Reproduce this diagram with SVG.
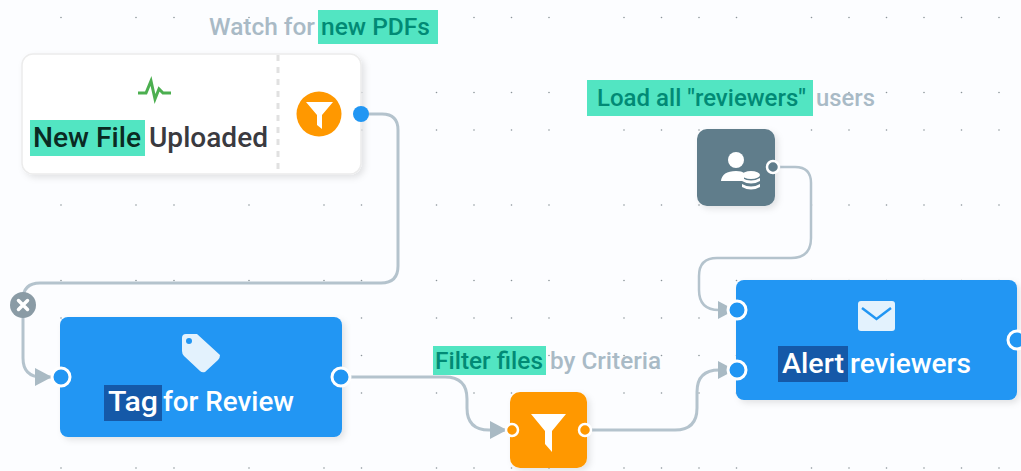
<svg xmlns="http://www.w3.org/2000/svg" width="1021" height="471" viewBox="0 0 1021 471">
<style>
text{font-family:Roboto,"Liberation Sans",sans-serif;}
.t{font-size:27px;font-weight:500;}
.l{font-size:23.5px;font-weight:500;fill:#a9bac6;}
.hl{fill:#52e5c2;}
.hd{fill:#1559a8;}
.w{fill:#fff;}
.lh{font-size:23.5px;font-weight:500;fill:#018a75;}
.edge{fill:none;stroke:#b4c3cd;stroke-width:3;}
.thin{stroke-width:2.5;}
.pb{fill:#2196f3;stroke:#fff;stroke-width:3;}
.ico{fill:#e3f2fd;}
</style>
<defs>
<path id="dots" d="M61 0h.01M136 0h.01M174 0h.01M249 0h.01M324 0h.01M361.500 0h.01M436.500 0h.01M474 0h.01M511.500 0h.01M549 0h.01M624 0h.01M661.500 0h.01M699 0h.01M736.500 0h.01M811.500 0h.01M849 0h.01M886.500 0h.01M924 0h.01M961.500 0h.01M999 0h.01" stroke="#8b9499" stroke-width="1.6" stroke-linecap="round" fill="none"/>
<marker id="arr" markerUnits="userSpaceOnUse" markerWidth="18" markerHeight="20" refX="17" refY="9" orient="auto"><path d="M0 0L17 9L0 18Z" fill="#a9bac4"/></marker>
<filter id="sh" x="-10%" y="-10%" width="125%" height="130%"><feDropShadow dx="3" dy="3" stdDeviation="3" flood-color="#000" flood-opacity=".1"/></filter>
</defs>
<rect width="1021" height="471" fill="#fcfdff"/>
<g id="grid">
<use href="#dots" y="17.5"/><use href="#dots" y="92.5"/><use href="#dots" y="130"/><use href="#dots" y="205"/><use href="#dots" y="280.5"/><use href="#dots" y="318"/><use href="#dots" y="355.5"/><use href="#dots" y="393"/><use href="#dots" y="468"/>
</g>
<g id="connectors">
<path class="edge" d="M361 114H382Q398 114 398 130V266Q398 283 381 283H40Q23 283 23 300V358Q23 377 42 377H52" marker-end="url(#arr)"/>
<path class="edge" d="M351 377H445Q467 377 467 399V408Q467 430 489 430H507" marker-end="url(#arr)"/>
<path class="edge" d="M592 430H675Q697 430 697 408V392Q697 370 719 370H735" marker-end="url(#arr)"/>
<path class="edge thin" d="M773 167H795Q811 167 811 183V238Q811 258 791 258H717Q699 258 699 276V290Q699 310 719 310H735" marker-end="url(#arr)"/>
</g>
<g id="edge-delete">
<circle cx="23" cy="305" r="13" fill="#8a9ba5"/>
<path d="M18.500 300.500l9 9m0-9l-9 9" stroke="#fff" stroke-width="3.500" stroke-linecap="round"/>
</g>
<g id="label-watch">
<rect class="hl" x="318" y="10" width="120" height="34"/>
<text class="l" x="209" y="35" textLength="106" lengthAdjust="spacingAndGlyphs">Watch for</text>
<text class="lh" x="321" y="35" textLength="109" lengthAdjust="spacingAndGlyphs">new PDFs</text>
</g>
<g id="node-new-file">
<rect x="22" y="54" width="339" height="120" rx="11" fill="#fff" stroke="#ececec" stroke-width="1.500" filter="url(#sh)"/>
<path d="M278 55V173" stroke="#e1e1e1" stroke-width="3" stroke-dasharray="6 6"/>
<path d="M138 93H146L151 81L155 99L159 89L163 93H171" fill="none" stroke="#4caf50" stroke-width="3"/>
<rect class="hl" x="30" y="120" width="115" height="36"/>
<text class="t" x="33" y="147" fill="#0a2a22" textLength="108" lengthAdjust="spacingAndGlyphs">New File</text>
<text class="t" x="149" y="147" fill="#3a3a3f" textLength="119" lengthAdjust="spacingAndGlyphs">Uploaded</text>
<circle cx="319" cy="114" r="22.500" fill="#ff9800"/>
<path d="M306 102H333L322 115V129L317 125V115Z" fill="#fff"/>
<circle cx="361" cy="114" r="8" fill="#2196f3"/>
</g>
<g id="node-tag">
<rect x="60" y="317" width="282" height="120" rx="8" fill="#2196f3" filter="url(#sh)"/>
<path d="M182 338Q182 334 186 334H197L220 355Q220 358 218 360L205 372Q202 373 200 371L184 356Q182 354 182 351Z" class="ico"/>
<circle cx="189" cy="341" r="3" fill="#2196f3"/>
<rect class="hd" x="104" y="385" width="58" height="36"/>
<text class="t w" x="108" y="411" textLength="50" lengthAdjust="spacingAndGlyphs">Tag</text>
<text class="t w" x="163" y="411" textLength="131" lengthAdjust="spacingAndGlyphs">for Review</text>
<circle class="pb" cx="61" cy="377" r="9"/>
<circle class="pb" cx="341" cy="377" r="9"/>
</g>
<g id="label-filter">
<rect class="hl" x="433" y="346" width="113" height="29"/>
<text class="lh" x="435" y="369" textLength="108" lengthAdjust="spacingAndGlyphs">Filter files</text>
<text class="l" x="550" y="369" textLength="111" lengthAdjust="spacingAndGlyphs">by Criteria</text>
</g>
<g id="node-filter">
<rect x="510" y="392" width="77" height="76" rx="10" fill="#ff9800" filter="url(#sh)"/>
<path d="M531 414H566L552 431V452L545 444V431Z" fill="#fff"/>
<circle cx="512" cy="430" r="6" fill="#ff9800" stroke="#fff" stroke-width="2.500"/>
<circle cx="585" cy="430" r="6" fill="#ff9800" stroke="#fff" stroke-width="2.500"/>
</g>
<g id="label-load">
<rect class="hl" x="587" y="80" width="226" height="36"/>
<text class="lh" x="597" y="106" textLength="209" lengthAdjust="spacingAndGlyphs">Load all "reviewers"</text>
<text class="l" x="816" y="106" textLength="59" lengthAdjust="spacingAndGlyphs">users</text>
</g>
<g id="node-load">
<rect x="697" y="129" width="78" height="77" rx="10" fill="#607d8b" filter="url(#sh)"/>
<circle cx="736" cy="160" r="8" fill="#fff"/>
<path d="M721 181Q722 171 736 171Q742 171 744 173V181Z" fill="#fff"/>
<g fill="#fff"><ellipse cx="751" cy="175" rx="9" ry="4"/><path d="M742 178Q751 183 760 178V181Q751 186 742 181Z"/><path d="M742 184Q751 189 760 184V187Q751 192 742 187Z"/></g>
<circle cx="773" cy="167" r="6" fill="#607d8b" stroke="#fff" stroke-width="2.500"/>
</g>
<g id="node-alert">
<rect x="736" y="280" width="281" height="120" rx="8" fill="#2196f3" filter="url(#sh)"/>
<rect x="858" y="301" width="37" height="30" rx="3" class="ico"/>
<path d="M862 308L876.500 319L891 308" fill="none" stroke="#2196f3" stroke-width="2.500"/>
<rect class="hd" x="778" y="346" width="70" height="36"/>
<text class="t w" x="782" y="373" textLength="62" lengthAdjust="spacingAndGlyphs">Alert</text>
<text class="t w" x="850" y="373" textLength="121" lengthAdjust="spacingAndGlyphs">reviewers</text>
<circle class="pb" cx="737" cy="310" r="9"/>
<circle class="pb" cx="737" cy="370" r="9"/>
<circle class="pb" cx="1017" cy="340" r="9"/>
</g>
</svg>
